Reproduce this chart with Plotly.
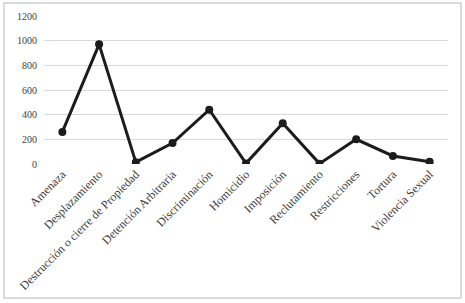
import plotly.graph_objects as go

categories = ["Amenaza", "Desplazamiento", "Destrucción o cierre de Propiedad",
              "Detención Arbitraria", "Discriminación", "Homicidio", "Imposición",
              "Reclutamiento", "Restricciones", "Tortura", "Violencia Sexual"]
values = [260, 970, 15, 170, 440, 5, 330, 3, 200, 65, 18]
y_ticks = [0, 200, 400, 600, 800, 1000, 1200]

fig = go.Figure()
fig.add_trace(go.Scatter(
    x=categories, y=values, mode="lines+markers",
    line=dict(color="#1c1c1c", width=3),
    marker=dict(color="#1c1c1c", size=8),
    showlegend=False,
))

L, R, T, B = 44, 17, 16, 139
W, H = 465, 303
pw, ph = W - L - R, H - T - B

fig.update_layout(
    width=W, height=H,
    margin=dict(l=L, r=R, t=T, b=B, autoexpand=False),
    paper_bgcolor="white", plot_bgcolor="white",
    font=dict(family="Liberation Serif, Times New Roman, serif", size=11, color="#404040"),
    xaxis=dict(showgrid=False, zeroline=False, showline=False, tickangle=-45,
               range=[-0.5, len(categories) - 0.5], automargin=False,
               ticks="", tickfont=dict(size=12, color="#404040")),
    yaxis=dict(range=[0, 1200], tickvals=y_ticks, showgrid=True, gridcolor="#d9d9d9",
               gridwidth=1, zeroline=False, showline=False, ticks="", automargin=False,
               ticklabelstandoff=6,
               tickfont=dict(size=10, color="#404040")),
    shapes=[dict(type="rect", xref="paper", yref="paper",
                 x0=(4 - L) / pw, x1=(461 - L) / pw,
                 y0=(T + ph - 298) / ph, y1=(T + ph - 3) / ph,
                 line=dict(color="#d0d0d0", width=1.5))],
)

fig.write_html("out.html", config={"displayModeBar": False},
               post_script="document.body.style.margin='0';document.body.style.overflow='hidden';")
